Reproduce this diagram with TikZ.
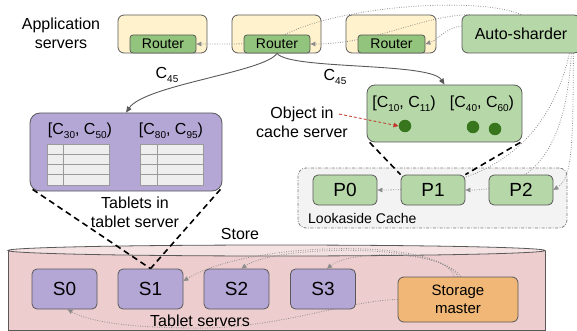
\documentclass[tikz,border=0pt]{standalone}
\usepackage{fontspec}
\setmainfont{Liberation Sans}
\usetikzlibrary{arrows.meta}
\definecolor{appy}{HTML}{FFF2CC}
\definecolor{rtg}{HTML}{93C47D}
\definecolor{lg}{HTML}{B6D7A8}
\definecolor{pur}{HTML}{B4A7D6}
\definecolor{org}{HTML}{F0B776}
\definecolor{cylb}{HTML}{EDCDCD}
\definecolor{cylt}{HTML}{F4E2E2}
\definecolor{grp}{HTML}{F3F3F3}
\definecolor{bord}{HTML}{595959}
\definecolor{dotc}{HTML}{8C8C8C}
\definecolor{dkg}{HTML}{38761D}
\definecolor{redd}{HTML}{C0392B}
\definecolor{tblf}{HTML}{EEEEEE}
\definecolor{tbll}{HTML}{9A9A9A}
\pgfdeclarelayer{bg}\pgfdeclarelayer{mid}\pgfdeclarelayer{lines}
\pgfsetlayers{bg,mid,lines,main}
\newcommand\sbs[1]{\raisebox{-3.5pt}{\fontsize{10}{12}\selectfont #1}}
\begin{document}
\begin{tikzpicture}[x=1pt,y=-1pt,
  box/.style={draw=bord, line width=0.8pt, inner sep=0pt, align=center},
  appbox/.style={box, fill=appy, rounded corners=6pt, minimum width=89pt, minimum height=38pt},
  router/.style={box, fill=rtg, rounded corners=3pt, minimum width=66pt, minimum height=18pt, font=\fontsize{14}{16}\selectfont},
  lbl/.style={font=\fontsize{16}{19}\selectfont, align=center, inner sep=0pt},
  pbox/.style={box, fill=lg, rounded corners=5pt, minimum width=64pt, minimum height=30pt, font=\fontsize{19}{22}\selectfont},
  sbox/.style={box, fill=pur, rounded corners=5pt, minimum width=65pt, minimum height=40pt, font=\fontsize{19}{22}\selectfont},
  cdot/.style={circle, fill=dkg, minimum size=12.5pt, inner sep=0pt},
  dotarr/.style={draw=dotc, line width=0.8pt, dash pattern=on 0.8pt off 1.6pt, -{Triangle[length=5pt,width=4.5pt]}},
  solidarr/.style={draw=bord, line width=0.9pt, -{Triangle[length=6pt,width=5pt]}},
  blkdash/.style={black, line width=1.6pt, dash pattern=on 6pt off 4pt},
  reddash/.style={draw=redd, line width=0.8pt, dash pattern=on 3pt off 2pt, -{Triangle[length=5pt,width=4.5pt]}},
  tbl/.style={draw=tbll, fill=tblf, line width=0.6pt}
]
\useasboundingbox (0,0) rectangle (577,331);

% store cylinder and lookaside group
\begin{pgfonlayer}{bg}
  \draw[draw=bord, fill=cylb, line width=0.8pt] (8,250.5) -- (8,330.5) -- (545,330.5) -- (545,250.5);
  \draw[draw=bord, fill=cylt, line width=0.8pt] (276.5,250.5) ellipse [x radius=268.5, y radius=5.5];
  \node[draw=bord!80, fill=grp, line width=0.8pt, rounded corners=8pt, inner sep=0pt,
        dash pattern=on 3pt off 1.5pt on 0.8pt off 1.5pt,
        minimum width=269pt, minimum height=60pt] (lac) at (432.5,198) {};
\end{pgfonlayer}

% application servers
\begin{pgfonlayer}{mid}
  \node[appbox] (app1) at (162.5,34) {};
  \node[appbox] (app2) at (276.5,34) {};
  \node[appbox, minimum width=90pt] (app3) at (391,34) {};
\end{pgfonlayer}
\node[router] (r1) at (163,44) {Router};
\node[router] (r2) at (277,44) {Router};
\node[router, minimum width=67pt] (r3) at (391.5,44) {Router};
\node[lbl] (applab) at (61,33) {Application\\servers};
\node[box, fill=lg, rounded corners=6pt, minimum width=118pt, minimum height=38pt,
      font=\fontsize{16}{19}\selectfont] (auto) at (521,34) {Auto-sharder};

% tablet server
\node[box, fill=pur, rounded corners=10pt, minimum width=192pt, minimum height=78pt] (tab) at (126,152) {};
\node[lbl] (tlab1) at (80,131) {[C\sbs{30}, C\sbs{50})};
\node[lbl] (tlab2) at (171,131) {[C\sbs{80}, C\sbs{95})};
\draw[tbl] (47,144) rectangle (109,185);
\draw[tbl] (63,144) -- (63,185) (47,154.25) -- (109,154.25) (47,164.5) -- (109,164.5) (47,174.75) -- (109,174.75);
\draw[tbl] (140,144) rectangle (203,185);
\draw[tbl] (157,144) -- (157,185) (140,154.25) -- (203,154.25) (140,164.5) -- (203,164.5) (140,174.75) -- (203,174.75);
\node[lbl] (tslab) at (135,212) {Tablets in\\tablet server};

% cache server
\node[box, fill=lg, rounded corners=8pt, minimum width=155pt, minimum height=57pt] (cache) at (444.5,113.5) {};
\node[lbl] (clab1) at (404,104) {[C\sbs{10}, C\sbs{11})};
\node[lbl] (clab2) at (482,104) {[C\sbs{40}, C\sbs{60})};
\node[cdot] (dot1) at (405,126) {};
\node[cdot] (dot2) at (473,127) {};
\node[cdot] (dot3) at (495,129) {};
\node[lbl] (objlab) at (302,122) {Object in\\cache server};
\coordinate (objend) at (339,114);

% lookaside partitions
\node[pbox] (p0) at (345,190) {P0};
\node[pbox] (p1) at (433,190) {P1};
\node[pbox] (p2) at (521,190) {P2};
\node[font=\fontsize{14}{16}\selectfont, anchor=west, inner sep=0pt] (laclab) at (308,218) {Lookaside Cache};

% store
\node[lbl] (storelab) at (240,234) {Store};
\node[sbox] (s0) at (64.5,289) {S0};
\node[sbox] (s1) at (150.5,289) {S1};
\node[sbox] (s2) at (236.5,289) {S2};
\node[sbox] (s3) at (323,289) {S3};
\node[lbl] (tsvlab) at (200,321) {Tablet servers};
\node[box, fill=org, rounded corners=6pt, minimum width=120pt, minimum height=45pt,
      font=\fontsize{15}{18}\selectfont] (sm) at (458,299.5) {Storage\\master};

% dotted control connectors
\begin{pgfonlayer}{lines}
  \draw[dotarr] ([yshift=8pt]auto.west) .. controls (445,28) and (438,40) .. (r3.east);
  \draw[dotarr] ([xshift=8pt]auto.north west) .. controls (420,16) and (375,44) .. (r2.east);
  \draw[dotarr] (auto.north) .. controls (480,-4) and (330,5) .. (275,40) .. controls (255,44) .. (r1.east);
  \draw[dotarr] ([xshift=-7pt]auto.south east) .. controls (573,150) and (572,178) .. (p2.east);
  \draw[dotarr] ([xshift=-9pt]auto.south east) .. controls (566,140) and (540,190) .. (p1.east);
  \draw[dotarr] ([xshift=-11pt]auto.south east) .. controls (550,140) and (490,190) .. (p0.east);
  \draw[dotarr] ([xshift=-4pt]sm.north) .. controls (445,238) and (250,240) .. ([yshift=8pt]s1.east);
  \draw[dotarr] (sm.north) .. controls (440,242) and (275,245) .. ([xshift=5pt]s2.north);
  \draw[dotarr] ([xshift=3pt]sm.north) .. controls (440,249) and (350,250) .. ([xshift=4pt]s3.north);
  \draw[dotarr] (sm.west) .. controls (350,300) and (280,328) .. (200,328) .. controls (130,328) and (90,322) .. ([xshift=3pt]s0.south);
\end{pgfonlayer}

% data path
\draw[solidarr] (r2.south) .. controls (265,72) and (145,85) .. (tab.north);
\draw[solidarr] (r2.south) .. controls (290,70) and (430,62) .. (cache.north);
\node[lbl] (c45a) at (167,75) {C\sbs{45}};
\node[lbl] (c45b) at (335,77) {C\sbs{45}};
\draw[reddash] (objend) -- (dot1.west);

% projections
\draw[blkdash] ([xshift=3pt,yshift=2pt]tab.south west) -- (s1.north);
\draw[blkdash] ([xshift=-2pt,yshift=2pt]tab.south east) -- (s1.north);
\draw[blkdash] ([xshift=3pt]cache.south west) -- (p1.north west);
\draw[blkdash] ([xshift=-2pt]cache.south east) -- (p1.north east);
\end{tikzpicture}
\end{document}
